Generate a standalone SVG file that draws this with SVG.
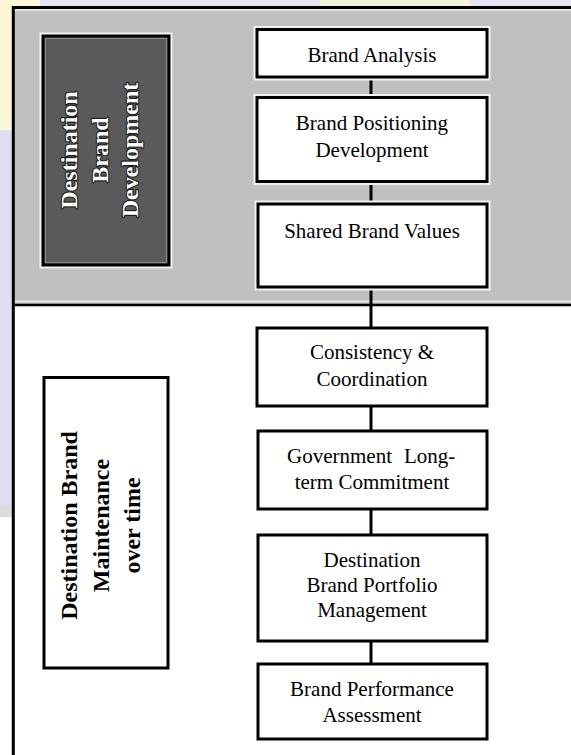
<svg xmlns="http://www.w3.org/2000/svg" width="571" height="755" viewBox="0 0 571 755">
<style>
.box{fill:#fff;stroke:#000;stroke-width:3}
.halo{fill:none;stroke:#f2f2f2;stroke-width:7}
.t{font-family:"Liberation Serif","Times New Roman",serif;font-size:21px;fill:#000;text-anchor:middle}
.v{font-family:"Liberation Serif","Times New Roman",serif;font-size:24px;font-weight:bold;text-anchor:middle}
.vw{fill:#fff;stroke:#1a1a1a;stroke-width:2.2;paint-order:stroke;stroke-linejoin:round}
.con{stroke:#000;stroke-width:3;fill:none}
</style>
<rect width="571" height="755" fill="#fff"/>
<g id="watermark">
<rect x="0" y="0" width="571" height="8" fill="#e6e2f6"/>
<rect x="0" y="0" width="40" height="8" fill="#faf6d6"/>
<rect x="320" y="0" width="150" height="8" fill="#f7f3da"/>
<rect x="0" y="0" width="12" height="130" fill="#faf6d6"/>
<rect x="0" y="130" width="12" height="380" fill="#e0dcf4"/>
<rect x="0" y="505" width="12" height="12" fill="#dcdcdc"/>
</g>
<g id="frame">
<rect x="13" y="7.5" width="560" height="297.5" fill="#c0c0c0"/>
<line x1="13" y1="10" x2="571" y2="10" stroke="#eeeeee" stroke-width="1.5"/>
<line x1="13" y1="301.5" x2="571" y2="301.5" stroke="#eeeeee" stroke-width="1.5"/>
<line x1="12" y1="7.5" x2="571" y2="7.5" stroke="#000" stroke-width="3"/>
<line x1="13" y1="305" x2="571" y2="305" stroke="#000" stroke-width="2.5"/>
<line x1="13.3" y1="6" x2="13.3" y2="755" stroke="#000" stroke-width="3"/>
</g>
<g id="connectors">
<line class="con" x1="371" y1="77" x2="371" y2="97.5"/>
<line class="con" x1="371" y1="181.5" x2="371" y2="204"/>
<line class="con" x1="371" y1="287" x2="371" y2="328"/>
<line class="con" x1="371" y1="406" x2="371" y2="431"/>
<line class="con" x1="371" y1="509" x2="371" y2="535"/>
<line class="con" x1="371" y1="641" x2="371" y2="664"/>
</g>
<g id="dev">
<rect class="halo" x="43" y="36" width="126" height="229"/>
<rect x="43" y="36" width="126" height="229" fill="#5a5a5a" stroke="#000" stroke-width="3"/>
<rect x="45.5" y="38.5" width="121" height="224" fill="none" stroke="#8a8a8a" stroke-width="1"/>
<g class="v vw">
<text transform="translate(77,150) rotate(-90)">Destination</text>
<text transform="translate(108,150) rotate(-90)">Brand</text>
<text transform="translate(138,150) rotate(-90)">Development</text>
</g>
</g>
<g id="brand-analysis">
<rect class="halo" x="257" y="29.5" width="230" height="47.5"/>
<rect class="box" x="257" y="29.5" width="230" height="47.5"/>
<text class="t" x="372" y="61.5">Brand Analysis</text>
</g>
<g id="brand-positioning">
<rect class="halo" x="257" y="97.5" width="230" height="84"/>
<rect class="box" x="257" y="97.5" width="230" height="84"/>
<text class="t" x="372" y="130">Brand Positioning</text>
<text class="t" x="372" y="156.5">Development</text>
</g>
<g id="shared-values">
<rect class="halo" x="258" y="204" width="229" height="83"/>
<rect class="box" x="258" y="204" width="229" height="83"/>
<text class="t" x="372" y="237.5">Shared Brand Values</text>
</g>
<g id="maintenance">
<rect class="box" x="44" y="377.5" width="124" height="290.5"/>
<g class="v">
<text transform="translate(77,525.5) rotate(-90)">Destination Brand</text>
<text transform="translate(108.5,525.5) rotate(-90)">Maintenance</text>
<text transform="translate(140,525.5) rotate(-90)">over time</text>
</g>
</g>
<g id="consistency">
<rect class="box" x="257" y="328" width="230" height="78"/>
<text class="t" x="372" y="358.5">Consistency &amp;</text>
<text class="t" x="372" y="386">Coordination</text>
</g>
<g id="government">
<rect class="box" x="258" y="431" width="229" height="78"/>
<text class="t" x="287" y="463" style="text-anchor:start">Government <tspan x="404">Long-</tspan></text>
<text class="t" x="372" y="488.5">term Commitment</text>
</g>
<g id="portfolio">
<rect class="box" x="258" y="535" width="229" height="106"/>
<text class="t" x="372" y="566.7">Destination</text>
<text class="t" x="372" y="592.3">Brand Portfolio</text>
<text class="t" x="372" y="617.3">Management</text>
</g>
<g id="performance">
<rect class="box" x="258" y="664" width="229" height="75"/>
<text class="t" x="372" y="696">Brand Performance</text>
<text class="t" x="372" y="721.7">Assessment</text>
</g>
</svg>
